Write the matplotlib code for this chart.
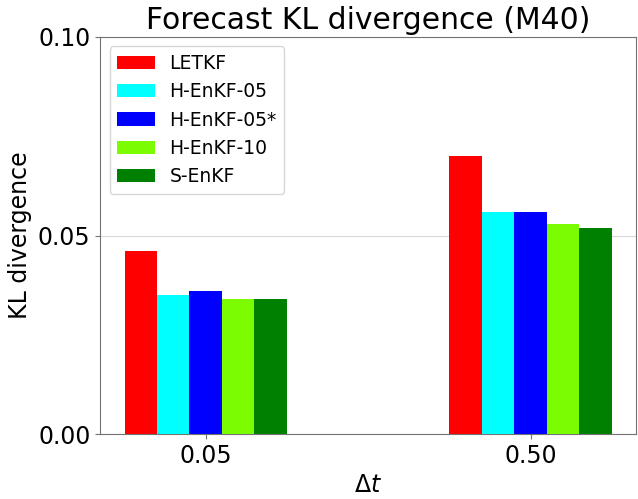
import numpy as np
import matplotlib
matplotlib.use('Agg')
from matplotlib import pyplot as plt

# forecast KL divergence for each filter at two observation intervals
dt_labels = ['0.05', '0.50']
methods = ['LETKF', 'H-EnKF-05', 'H-EnKF-05*', 'H-EnKF-10', 'S-EnKF']
colors = ['red', 'cyan', 'blue', 'lawngreen', 'green']
kl_dt005 = [0.046, 0.035, 0.036, 0.034, 0.034]
kl_dt050 = [0.070, 0.056, 0.056, 0.053, 0.052]

values = np.array([kl_dt005, kl_dt050])
x = np.arange(len(dt_labels))
width = 0.1

fig = plt.figure(figsize=(6.38, 4.99), dpi=100)
ax = fig.add_axes([0.157, 0.130, 0.840, 0.796])

for i, (name, c) in enumerate(zip(methods, colors)):
    ax.bar(x + (i - 2) * width, values[:, i], width, color=c, label=name, zorder=3)

ax.set_ylim(0, 0.10)
ax.set_yticks([0.0, 0.05, 0.10])
ax.set_yticklabels(['0.00', '0.05', '0.10'])
ax.set_xticks(x)
ax.set_xticklabels(dt_labels)
ax.tick_params(labelsize=17, color='0.45')
ax.yaxis.grid(True, color='0.85', linewidth=0.8, zorder=0)
for s in ax.spines.values():
    s.set_color('0.45')

ax.set_title('Forecast KL divergence (M40)', fontsize=21.5)
ax.set_xlabel(r'$\Delta t$', fontsize=17)
ax.set_ylabel('KL divergence', fontsize=17)
ax.legend(loc='upper left', fontsize=13.5)

plt.savefig('out.png', dpi=100)
